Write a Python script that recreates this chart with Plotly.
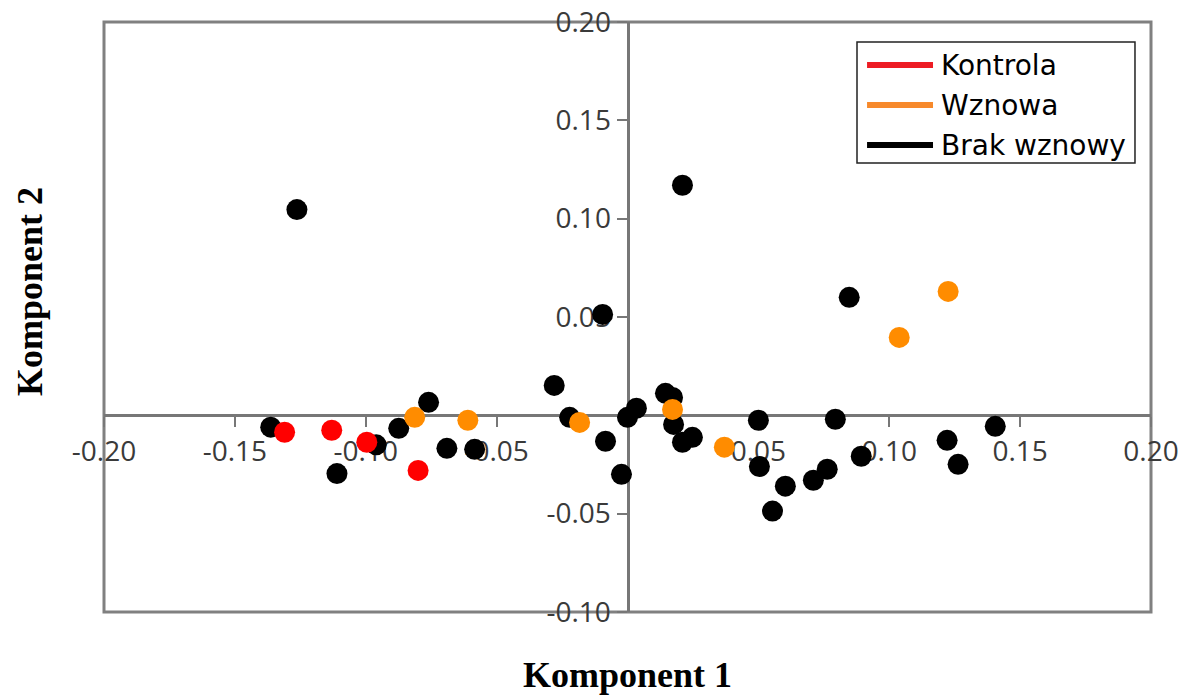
import plotly.graph_objects as go

# ---- data ----
series_names = ["Kontrola", "Wznowa", "Brak wznowy"]
marker_colors = ["#ff0000", "#ff8c00", "#000000"]
legend_colors = ["#ed1c24", "#f7892b", "#000000"]

kontrola_x = [-0.1310, -0.1130, -0.0996, -0.0800]
kontrola_y = [-0.0086, -0.0076, -0.0137, -0.0280]

wznowa_x = [-0.0813, -0.0610, -0.0183, 0.0172, 0.0370, 0.1038, 0.1225]
wznowa_y = [-0.0010, -0.0025, -0.0036, 0.0030, -0.0162, 0.0396, 0.0630]

brak_x = [-0.1263, 0.0210, 0.0847, -0.0095, -0.0280, -0.1363, -0.1110, -0.0960,
          -0.0874, -0.0760, -0.0690, -0.0584, -0.0221, -0.0084, -0.0023, 0.0000,
          0.0034, 0.0145, 0.0172, 0.0176, 0.0210, 0.0248, 0.0500, 0.0504,
          0.0794, 0.0603, 0.0554, 0.0710, 0.0763, 0.0893, 0.1221, 0.1263, 0.1405]
brak_y = [0.1046, 0.1170, 0.0600, 0.0513, 0.0152, -0.0060, -0.0296, -0.0150,
          -0.0066, 0.0066, -0.0168, -0.0173, -0.0010, -0.0132, -0.0300, -0.0010,
          0.0036, 0.0112, 0.0091, -0.0046, -0.0137, -0.0112, -0.0025, -0.0260,
          -0.0020, -0.0360, -0.0487, -0.0330, -0.0274, -0.0208, -0.0127, -0.0249, -0.0056]

x_ticks = [-0.20, -0.15, -0.10, -0.05, 0.05, 0.10, 0.15, 0.20]
x_ticklabels = ["-0.20", "-0.15", "-0.10", "-0.05", "0.05", "0.10", "0.15", "0.20"]
y_ticks = [-0.10, -0.05, 0.05, 0.10, 0.15, 0.20]
y_ticklabels = ["-0.10", "-0.05", "0.05", "0.10", "0.15", "0.20"]

x_title = "Komponent 1"
y_title = "Komponent 2"

x_range = [-0.2, 0.2]
y_range = [-0.1, 0.2]

# ---- figure ----
fig = go.Figure()
series = [
    (series_names[2], brak_x, brak_y, marker_colors[2]),
    (series_names[1], wznowa_x, wznowa_y, marker_colors[1]),
    (series_names[0], kontrola_x, kontrola_y, marker_colors[0]),
]
for name, xs, ys, col in series:
    fig.add_trace(go.Scatter(
        x=xs, y=ys, mode="markers", name=name, showlegend=False,
        marker=dict(size=21, color=col, line=dict(width=0)),
    ))

axis_col = "#777777"
tick_font = dict(family="Open Sans", size=28, color="#3a3a3a")

fig.update_layout(
    width=1183, height=695,
    margin=dict(l=104, r=32, t=22, b=83, autoexpand=False),
    paper_bgcolor="white", plot_bgcolor="white",
    showlegend=False,
    xaxis=dict(
        range=x_range, anchor="free",
        position=(0 - y_range[0]) / (y_range[1] - y_range[0]),
        showgrid=False, zeroline=False,
        showline=True, linecolor=axis_col, linewidth=3,
        ticks="outside", ticklen=10, tickwidth=2, tickcolor=axis_col,
        tickvals=x_ticks, ticktext=x_ticklabels, tickfont=tick_font,
        layer="below traces", automargin=False,
    ),
    yaxis=dict(
        range=y_range, anchor="free",
        position=(0 - x_range[0]) / (x_range[1] - x_range[0]),
        showgrid=False, zeroline=False,
        showline=True, linecolor=axis_col, linewidth=3,
        ticks="outside", ticklen=10, tickwidth=2, tickcolor=axis_col,
        tickvals=y_ticks, ticktext=y_ticklabels, tickfont=tick_font,
        layer="below traces", automargin=False,
    ),
)

shapes = [dict(type="rect", xref="paper", yref="paper", x0=0, y0=0, x1=1, y1=1,
               line=dict(color="#808080", width=3), layer="below")]

# manual legend (box, line symbols, labels)
lg_x0, lg_x1, lg_y0, lg_y1 = 0.7192, 0.9847, 0.761, 0.966
shapes.append(dict(type="rect", xref="paper", yref="paper",
                   x0=lg_x0, x1=lg_x1, y0=lg_y0, y1=lg_y1,
                   line=dict(color="#222222", width=1.5), fillcolor="white", layer="above"))
row_y = [0.9271, 0.8593, 0.7915]
annotations = []
for i, (nm, col) in enumerate(zip(series_names, legend_colors)):
    shapes.append(dict(type="line", xref="paper", yref="paper",
                       x0=0.7288, x1=0.7918, y0=row_y[i], y1=row_y[i],
                       line=dict(color=col, width=6), layer="above"))
    annotations.append(dict(xref="paper", yref="paper", x=0.7975, y=row_y[i],
                            text=nm, showarrow=False, xanchor="left", yanchor="middle",
                            font=dict(family="DejaVu Sans", size=28, color="black")))

annotations.append(dict(xref="paper", yref="paper", x=(627 - 104) / 1047, y=(612 - 675) / 590,
                        text="<b>" + x_title + "</b>", showarrow=False,
                        xanchor="center", yanchor="middle",
                        font=dict(family="Liberation Serif", size=36, color="black")))
annotations.append(dict(xref="paper", yref="paper", x=(30 - 104) / 1047, y=(612 - 292) / 590,
                        text="<b>" + y_title + "</b>", showarrow=False, textangle=-90,
                        xanchor="center", yanchor="middle",
                        font=dict(family="Liberation Serif", size=36, color="black")))

fig.update_layout(shapes=shapes, annotations=annotations)
fig.write_html("out.html", config={"displayModeBar": False},
               post_script="document.body.style.margin='0px';document.body.style.overflow='hidden';")
